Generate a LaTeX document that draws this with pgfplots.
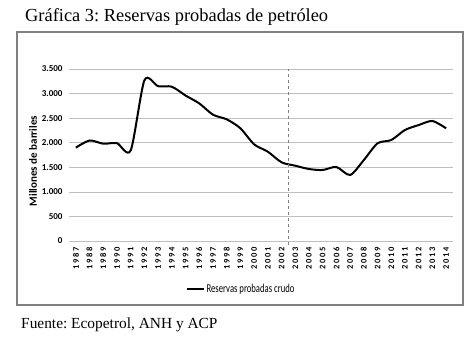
\documentclass[border=0pt]{standalone}
\usepackage{fontspec}
\setmainfont{Liberation Serif}
\newfontfamily\chartfont{Carlito}
\newfontfamily\yearfont[LetterSpace=18]{Carlito}
\newfontfamily\legfont[FakeStretch=0.72]{Carlito}
\usepackage{pgfplots}
\pgfplotsset{compat=1.18}
\definecolor{gridgray}{HTML}{BFBFBF}
\definecolor{framegray}{HTML}{808080}
\frenchspacing
\begin{document}
\begin{tikzpicture}[x=1pt,y=1pt]
\useasboundingbox (0,0) rectangle (475,341);
\draw[framegray, line width=1.5pt] (17,36) rectangle (463,309);
\node[anchor=base west, inner sep=0pt, font=\fontsize{18.4}{21}\selectfont] at (25,319) {Gráfica 3: Reservas probadas de petróleo};
\node[anchor=base west, inner sep=0pt, font=\fontsize{15.4}{18}\selectfont] at (21,13) {Fuente: Ecopetrol, ANH y ACP};
\node[rotate=90, font=\chartfont\bfseries\fontsize{11}{12}\selectfont] at (33,180) {Millones de barriles};
\begin{axis}[
  at={(69pt,100pt)}, anchor=south west,
  scale only axis, width=384pt, height=172pt,
  xmin=1986.5, xmax=2014.5, ymin=0, ymax=3500,
  xtick={1987,...,2014}, ytick={0,500,...,3500},
  axis line style={draw=none},
  major tick length=0pt,
  ymajorgrids, grid style={gridgray, line width=0.6pt},
  /pgf/number format/assume math mode=true,
  x tick label style={rotate=90, anchor=east, font=\yearfont\bfseries\fontsize{8.5}{9}\selectfont, /pgf/number format/1000 sep={}, xshift=-3pt},
  y tick label style={font=\chartfont\bfseries\fontsize{9}{10}\selectfont, /pgf/number format/1000 sep={.}, xshift=-3pt},
  legend style={at={(0.448,-0.28)}, anchor=center, draw=none, fill=none, font=\legfont\fontsize{12}{13}\selectfont, inner sep=0pt},
  legend image code/.code={\draw[black, line width=2pt] (0pt,0pt) -- (17pt,0pt);},
  clip=false,
]
\addplot[black, line width=2pt, smooth, tension=0.45] coordinates {
(1987,1900) (1988,2045) (1989,1980) (1990,1990) (1991,1845) (1992,3270)
(1993,3150) (1994,3140) (1995,2960) (1996,2800) (1997,2570) (1998,2476)
(1999,2293) (2000,1967) (2001,1817) (2002,1601) (2003,1532) (2004,1465)
(2005,1445) (2006,1506) (2007,1343) (2008,1648) (2009,1988) (2010,2055)
(2011,2259) (2012,2360) (2013,2442) (2014,2293)};
\addlegendentry{Reservas probadas crudo}
\addplot[gray, dashed, line width=0.8pt, forget plot] coordinates {(2002.5,-80) (2002.5,3500)};
\end{axis}
\end{tikzpicture}
\end{document}
